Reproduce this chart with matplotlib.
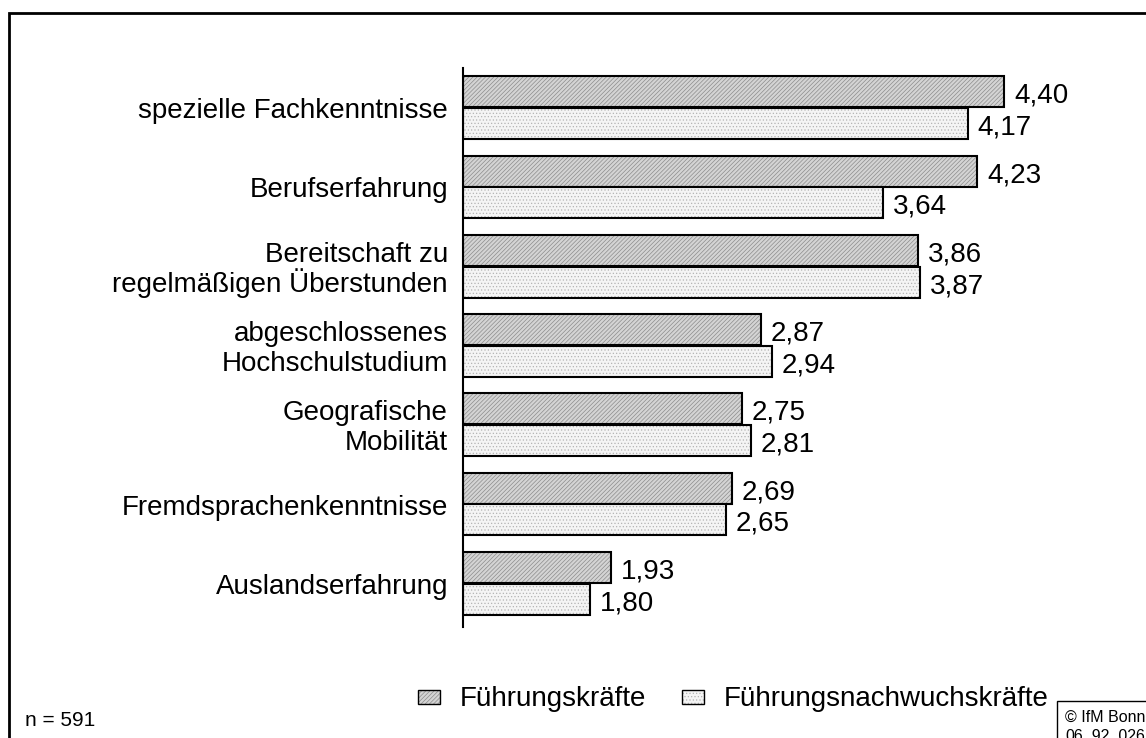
import matplotlib
matplotlib.use("Agg")
import matplotlib.pyplot as plt
from matplotlib.patches import Rectangle
import numpy as np

plt.rcParams['font.family'] = ['Liberation Sans', 'DejaVu Sans']
plt.rcParams['hatch.linewidth'] = 0.5

categories = ["spezielle Fachkenntnisse", "Berufserfahrung",
              "Bereitschaft zu\nregelmäßigen Überstunden",
              "abgeschlossenes\nHochschulstudium",
              "Geografische\nMobilität",
              "Fremdsprachenkenntnisse", "Auslandserfahrung"]
fuehrung = [4.40, 4.23, 3.86, 2.87, 2.75, 2.69, 1.93]
nachwuchs = [4.17, 3.64, 3.87, 2.94, 2.81, 2.65, 1.80]
series_names = ["Führungskräfte", "Führungsnachwuchskräfte"]
x_start = 1.0

W, H = 1146, 738
DPI = 100
px = 72.0 / DPI  # points per pixel
fig = plt.figure(figsize=(W / DPI, H / DPI), dpi=DPI)
ax = fig.add_axes([463 / W, 1 - 627 / H, (1100 - 463) / W, (627 - 68) / H])

y = np.arange(len(categories))
h = 0.39
off = 0.2
styles = [
    dict(face="#d4d4d4", hatch="////////", hcol="#8c8c8c"),
    dict(face="#f4f4f4", hatch=".....", hcol="#b4b4b4"),
]
for vals, sgn, st in [(fuehrung, -1, styles[0]), (nachwuchs, 1, styles[1])]:
    widths = [v - x_start for v in vals]
    ax.barh(y + sgn * off, widths, height=h, left=x_start, color=st["face"],
            hatch=st["hatch"], edgecolor=st["hcol"], linewidth=0)
    ax.barh(y + sgn * off, widths, height=h, left=x_start, fill=False,
            edgecolor="black", linewidth=1.5)
    for yi, v in zip(y, vals):
        ax.text(v + 0.06, yi + sgn * off + 0.05, f"{v:.2f}".replace(".", ","),
                va="center", ha="left", fontsize=20)

ax.set_xlim(x_start, 5.0)
ax.set_ylim(len(categories) - 0.45, -0.5)
for s in ["top", "right", "bottom"]:
    ax.spines[s].set_visible(False)
ax.spines["left"].set_linewidth(1.5)
ax.set_xticks([])
ax.set_yticks([])

# category labels, one text per line with fixed line spacing
line_gap = 30  # px
for yi, cat in zip(y, categories):
    lines = cat.split("\n")
    n = len(lines)
    for j, line in enumerate(lines):
        dy = (j - (n - 1) / 2) * line_gap + 10.5
        ax.annotate(line, xy=(0, yi), xycoords=("axes fraction", "data"),
                    xytext=(-15 * px, -dy * px), textcoords="offset points",
                    ha="right", va="baseline", fontsize=20)

# outer frame
fig.patches.append(Rectangle((8.5 / W, -0.1), 1.2, 1 - 13.5 / H + 0.1,
                             transform=fig.transFigure, fill=False,
                             edgecolor="black", linewidth=2))

# legend
def legend_box(x0, st):
    for kw in [dict(facecolor=st["face"], hatch=st["hatch"], edgecolor=st["hcol"], linewidth=0),
               dict(fill=False, edgecolor="black", linewidth=1)]:
        fig.patches.append(Rectangle((x0 / W, 1 - 704 / H), 22 / W, 14 / H,
                                     transform=fig.transFigure, **kw))

legend_box(418, styles[0])
fig.text(460 / W, 1 - 699 / H, series_names[0], fontsize=20, va="center", ha="left")
legend_box(682, styles[1])
fig.text(724 / W, 1 - 699 / H, series_names[1], fontsize=20, va="center", ha="left")

fig.text(25 / W, 1 - 720 / H, "n = 591", fontsize=15, va="center", ha="left")

# copyright box
fig.patches.append(Rectangle((1057 / W, -0.1), 0.2, 0.1 + 1 - 701 / H,
                             transform=fig.transFigure, fill=False,
                             edgecolor="black", linewidth=1))
fig.text(1065 / W, 1 - 722 / H, "© IfM Bonn", fontsize=11.5, va="baseline", ha="left")
fig.text(1065 / W, 1 - 741 / H, "06_92_026", fontsize=11.5, va="baseline", ha="left")

fig.savefig("out.png", dpi=DPI, facecolor="white")
